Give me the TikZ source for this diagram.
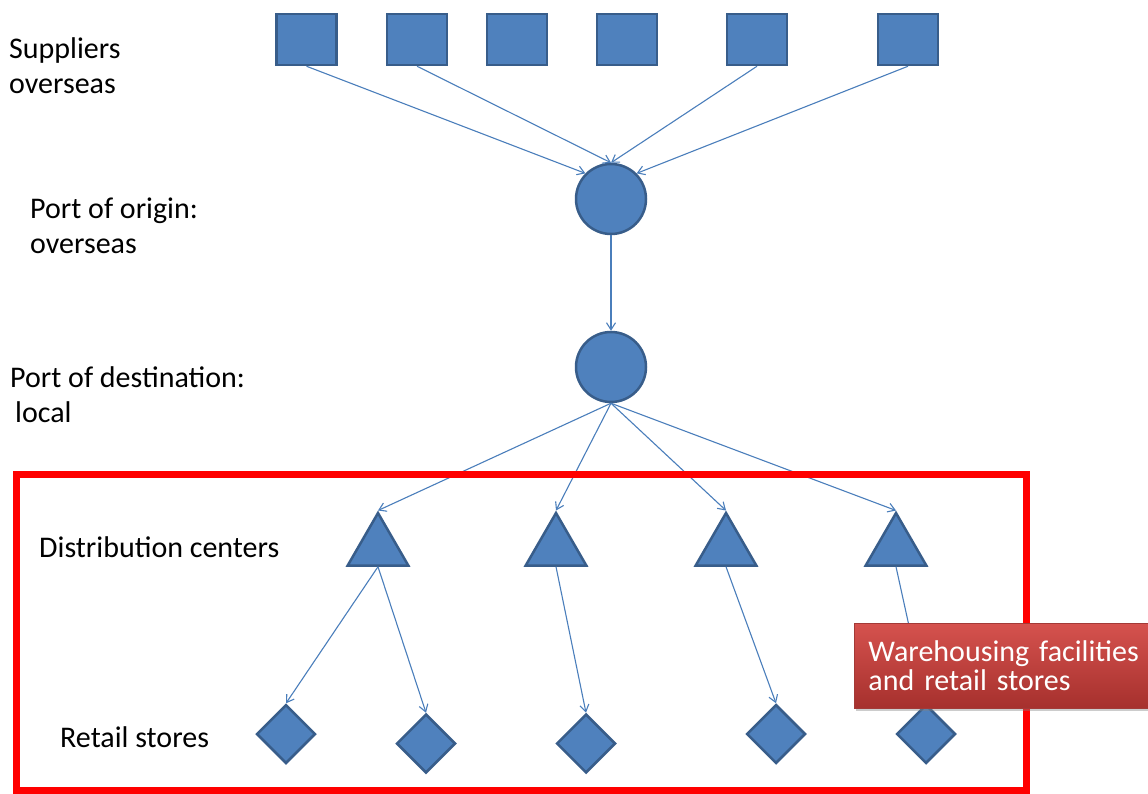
\documentclass[tikz,border=0pt]{standalone}
\usepackage{fontspec}
\setmainfont{Carlito}
\usetikzlibrary{arrows.meta,shapes.geometric,shadows}
\definecolor{boxblue}{HTML}{4F81BD}
\definecolor{boxedge}{HTML}{385D8A}
\definecolor{linkblue}{HTML}{4A7EBB}
\definecolor{framered}{HTML}{FF0000}
\definecolor{labtop}{HTML}{D5524E}
\definecolor{labbot}{HTML}{A6302D}
\definecolor{labedge}{HTML}{A33A37}
\begin{document}
\begin{tikzpicture}[x=1pt,y=-1pt,
  shapestyle/.style={fill=boxblue,draw=boxedge,line width=2.5pt,inner sep=0pt},
  supplier/.style={shapestyle,rectangle,minimum width=60pt,minimum height=51pt},
  port/.style={shapestyle,circle,minimum size=70pt},
  dc/.style={shapestyle,regular polygon,regular polygon sides=3,minimum size=70pt},
  store/.style={shapestyle,diamond,minimum width=59pt,minimum height=59pt},
  link/.style={draw=linkblue,line width=1.1pt,-{Straight Barb[length=7pt,width=9pt]}},
  lab/.style={font=\fontsize{30}{35}\selectfont,inner sep=0pt,anchor=base west,text=black},
  labelbox/.style={font=\fontsize{30}{29}\selectfont,text=white,align=left,text width=280pt,
    inner xsep=14pt,inner ysep=0pt,minimum height=85pt,top color=labtop,bottom color=labbot,
    draw=labedge,line width=0.8pt,drop shadow={shadow xshift=1.5pt,shadow yshift=-3pt,opacity=0.4}},
  ]
\useasboundingbox (0,0) rectangle (1148,794);
\clip (0,0) rectangle (1148,794);
\fill[white] (0,0) rectangle (1148,794);

% left labels
\node[lab] (lsup) at (9,59) {\begin{tabular}[t]{@{}l@{}}Suppliers\\overseas\end{tabular}};
\node[lab] (lorig) at (30,219) {\begin{tabular}[t]{@{}l@{}}Port of origin:\\overseas\end{tabular}};
\node[lab] (ldest) at (10,387) {\begin{tabular}[t]{@{}l@{}}Port of destination:\\\hspace{5pt}local\end{tabular}};
\node[lab] (ldc) at (39,557) {Distribution centers};
\node[lab] (lret) at (60,747) {Retail stores};

% suppliers
\node[supplier] (s1) at (306.5,39.5) {};
\node[supplier] (s2) at (417,39.5) {};
\node[supplier] (s3) at (517,39.5) {};
\node[supplier] (s4) at (627,39.5) {};
\node[supplier] (s5) at (757,39.5) {};
\node[supplier] (s6) at (908,39.5) {};

% ports
\node[port] (c1) at (611,199) {};
\node[port] (c2) at (611,367) {};

% distribution centers
\node[dc] (t1) at (378,548) {};
\node[dc] (t2) at (556,548) {};
\node[dc] (t3) at (726,548) {};
\node[dc] (t4) at (896,548) {};

% retail stores
\node[store] (d1) at (286,734) {};
\node[store] (d2) at (426,743.5) {};
\node[store] (d3) at (586,743.5) {};
\node[store] (d4) at (776,734) {};
\node[store] (d5) at (926,734) {};

% connectors
\draw[link] (s1.south) -- (c1.north west);
\draw[link] (s2.south) -- (c1.north);
\draw[link] (s5.south) -- (c1.north);
\draw[link] (s6.south) -- (c1.north east);
\draw[link] (c1.south) -- (c2.north);
\draw[link] (c2.south) -- (t1.corner 1);
\draw[link] (c2.south) -- (t2.corner 1);
\draw[link] (c2.south) -- (t3.corner 1);
\draw[link] (c2.south) -- (t4.corner 1);
\draw[link] (t1.side 2) -- (d1.north);
\draw[link] (t1.side 2) -- (d2.north);
\draw[link] (t2.side 2) -- (d3.north);
\draw[link] (t3.side 2) -- (d4.north);
\draw[link] (t4.side 2) -- (d5.north);

% red frame
\draw[framered,line width=7pt] (16.5,474) rectangle (1026.5,790);

% label box
\node[labelbox,anchor=north west] (wh) at (854,623) {Warehousing facilities\\and retail stores};
\end{tikzpicture}
\end{document}
